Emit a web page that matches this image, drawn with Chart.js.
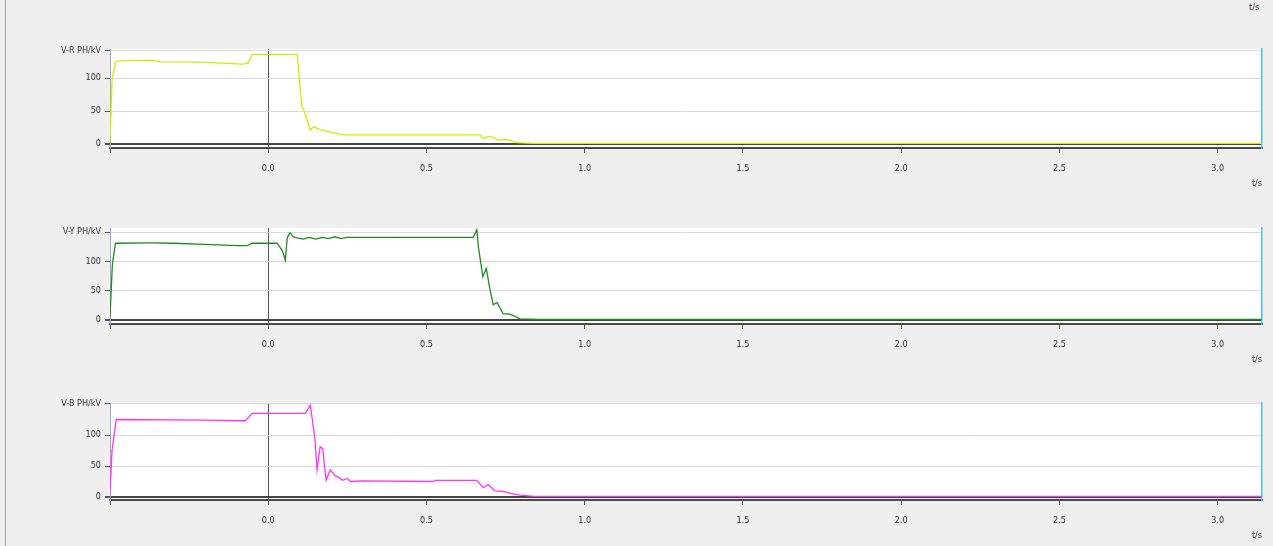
<!DOCTYPE html>
<html>
<head>
<meta charset="utf-8">
<script src="https://cdn.jsdelivr.net/npm/chart.js@4.4.1/dist/chart.umd.min.js"></script>
<style>
  body { margin: 0; background: #efefef; width: 1273px; height: 546px; overflow: hidden; position: relative; font-family: "Liberation Sans Narrow", "DejaVu Sans Condensed", Arial, sans-serif; }
  canvas { position: absolute; left: 0; }
  .edge { position: absolute; left: 5px; top: 0; width: 1px; height: 546px; background: #a8a8a8; }
  .unit { position: absolute; left: 1249px; top: 2px; font-size: 9px; color: #333; }
</style>
</head>
<body>
<div class="edge"></div>
<div class="unit">t/s</div>
<canvas id="chartR" width="1273" height="160" style="top:30px"></canvas>
<canvas id="chartY" width="1273" height="157" style="top:209px"></canvas>
<canvas id="chartB" width="1273" height="158" style="top:384px"></canvas>
<script>
// time axis ticks (seconds)
const timeTicks = [-0.5, 0, 0.5, 1.0, 1.5, 2.0, 2.5, 3.0];
const valueTicks = [0, 50, 100];

// V-R phase voltage (kV)
const tR = [-0.5, -0.4935, -0.483, -0.474, -0.37, -0.341, -0.215, -0.079, -0.063, -0.0505, 0.0916, 0.098, 0.106, 0.11, 0.117, 0.133, 0.143, 0.164, 0.196, 0.215, 0.237, 0.669, 0.679, 0.70, 0.727, 0.754, 0.785, 0.83, 3.14];
const vR = [2, 97, 124, 126, 127, 124.5, 124, 121, 123, 136, 136, 100, 57, 55, 45, 21, 26, 22, 18, 16, 14, 14, 8.5, 12, 6, 7, 2, 1, 1];

// V-Y phase voltage (kV)
const tY = [-0.5, -0.4926, -0.483, -0.37, -0.3, -0.2, -0.1, -0.067, -0.05, 0.028, 0.044, 0.054, 0.06, 0.069, 0.079, 0.09, 0.11, 0.13, 0.15, 0.17, 0.19, 0.21, 0.23, 0.25, 0.648, 0.659, 0.664, 0.678, 0.689, 0.70, 0.711, 0.723, 0.742, 0.764, 0.796, 0.85, 3.14];
const vY = [5, 94, 131, 131.5, 131, 129, 127, 127, 131, 131, 119, 102, 140, 149, 142, 140, 138, 141, 138, 141, 139, 142, 139, 141, 141, 154, 125, 74, 88, 54, 26, 30, 11, 10, 2, 1, 1];

// V-B phase voltage (kV)
const tB = [-0.5, -0.4935, -0.48, -0.2, -0.1, -0.073, -0.05, 0.117, 0.133, 0.148, 0.154, 0.164, 0.172, 0.183, 0.196, 0.212, 0.222, 0.235, 0.25, 0.26, 0.3, 0.52, 0.53, 0.659, 0.679, 0.695, 0.716, 0.741, 0.773, 0.796, 0.84, 3.14];
const vB = [5, 76, 125, 124, 123, 123, 135, 135, 148, 92, 44, 81, 78, 27, 44, 34, 32, 27, 30, 25, 26, 25, 27, 27, 15, 20, 10, 9, 5, 3, 1, 1];

const tickFont = { family: '"Liberation Sans Narrow", "DejaVu Sans Condensed", Arial, sans-serif', size: 9 };

// white plot background
const plotBg = {
    id: 'plotBg',
    beforeDraw(chart) {
        const a = chart.chartArea;
        const c = chart.ctx;
        c.save();
        c.fillStyle = '#ffffff';
        c.fillRect(a.left, a.top, a.right - a.left, a.bottom - a.top);
        c.restore();
    }
};

function makePanel(id, name, t, v, color, yMin, yMax, topTick) {
    const ctx = document.getElementById(id).getContext('2d');
    return new Chart(ctx, {
        type: 'line',
        data: {
            datasets: [{
                label: name,
                data: t.map((x, i) => ({ x: x, y: v[i] })),
                borderColor: color,
                borderWidth: 1.3,
                pointRadius: 0,
                tension: 0,
                fill: false
            }]
        },
        options: {
            responsive: false,
            animation: false,
            devicePixelRatio: 1,
            layout: { padding: { top: 19, right: 11, left: 0, bottom: 0 } },
            plugins: { legend: { display: false }, tooltip: { enabled: false } },
            scales: {
                x: {
                    type: 'linear',
                    min: -0.5,
                    max: 3.14,
                    afterBuildTicks: s => { s.ticks = timeTicks.map(x => ({ value: x })); },
                    afterFit: s => { s.height = 42; },
                    ticks: {
                        autoSkip: false,
                        maxRotation: 0,
                        padding: 10,
                        color: '#333',
                        font: tickFont,
                        callback: val => val < 0 ? '' : val.toFixed(1)
                    },
                    grid: {
                        drawOnChartArea: true,
                        tickLength: 5,
                        color: c => c.tick && c.tick.value === 0 ? '#555555' : 'rgba(0,0,0,0)',
                        tickColor: '#555555',
                        lineWidth: 1
                    },
                    border: { color: '#4a4a4a', width: 2 },
                    title: {
                        display: true,
                        text: 't/s',
                        align: 'end',
                        color: '#333',
                        font: tickFont,
                        padding: { top: 0, bottom: 1 }
                    }
                },
                y: {
                    min: yMin,
                    max: yMax,
                    afterBuildTicks: s => { s.ticks = valueTicks.concat([topTick]).map(x => ({ value: x })); },
                    afterFit: s => { s.width = 110; },
                    ticks: {
                        autoSkip: false,
                        padding: 4,
                        color: '#333',
                        font: tickFont,
                        callback: val => val === topTick ? name : val
                    },
                    grid: {
                        tickLength: 5,
                        color: c => c.tick && c.tick.value === 0 ? '#444444' : '#dadada',
                        lineWidth: c => c.tick && c.tick.value === 0 ? 2 : 1,
                        tickColor: '#555555'
                    },
                    border: { color: '#9fa8c8', width: 1 }
                },
                yRight: {
                    position: 'right',
                    min: yMin,
                    max: yMax,
                    afterFit: s => { s.width = 0; },
                    ticks: { display: false },
                    grid: { display: false },
                    border: { color: '#3cc8ec', width: 1.5 }
                }
            }
        },
        plugins: [plotBg]
    });
}

makePanel('chartR', 'V-R PH/kV', tR, vR, '#d0ec00', -6, 144, 141);
makePanel('chartY', 'V-Y PH/kV', tY, vY, '#1f8a1f', -6.8, 157, 150);
makePanel('chartB', 'V-B PH/kV', tB, vB, '#ff33ff', -4.8, 151.6, 150);
</script>
</body>
</html>
